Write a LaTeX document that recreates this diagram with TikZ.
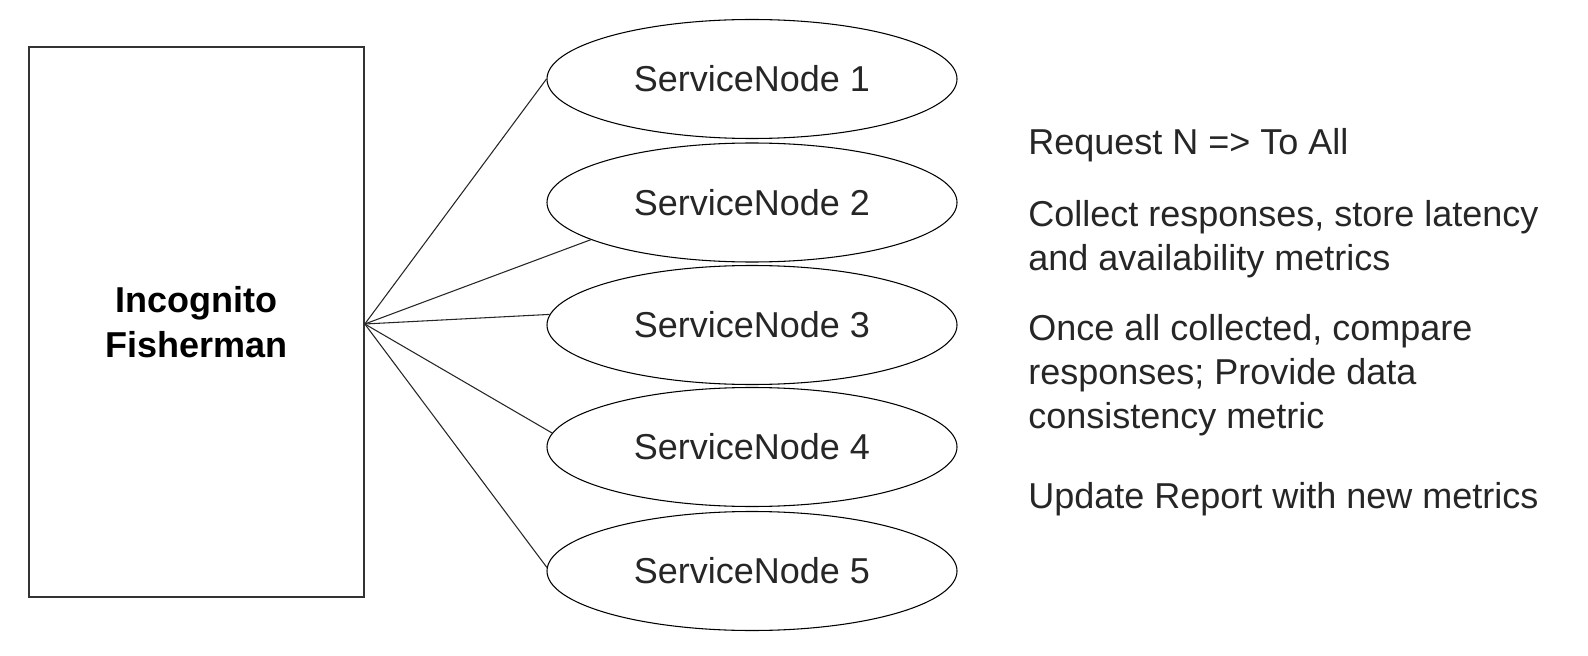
\documentclass[tikz,border=0pt]{standalone}
\usepackage{fontspec}
\setmainfont{Liberation Sans}
\usetikzlibrary{shapes.geometric,calc}
\definecolor{edgegray}{HTML}{333333}
\tikzset{
  px/.style={x=0.75pt,y=-0.75pt},
  fishbox/.style={draw=edgegray, line width=1.2pt, rectangle, inner sep=0pt,
    minimum width=251.25pt, minimum height=412.5pt, align=center,
    font=\fontsize{27}{33.75}\selectfont\bfseries},
  svc/.style={draw=black, line width=0.8pt, ellipse, inner sep=0pt,
    minimum width=307.5pt, minimum height=89.25pt,
    font=\fontsize{27}{33}\selectfont, text=black!85},
  note/.style={anchor=base west, inner sep=0pt, align=left,
    font=\fontsize{27}{33}\selectfont, text=black!85},
  link/.style={draw=black!85, line width=0.8pt}
}
\begin{document}
\begin{tikzpicture}[px]
\useasboundingbox (0,0) rectangle (1588,656);
\node[fishbox] (fish) at (196.5,322) {Incognito\\Fisherman};
\node[svc] (s1) at (752,79) {ServiceNode 1};
\node[svc] (s2) at (752,202.5) {ServiceNode 2};
\node[svc] (s3) at (752,325) {ServiceNode 3};
\node[svc] (s4) at (752,447) {ServiceNode 4};
\node[svc] (s5) at (752,571) {ServiceNode 5};
\coordinate (hub) at ($(fish.east)+(0,2)$);
\draw[link] (hub) -- (s1.west);
\draw[link] (hub) -- (s2.193);
\draw[link] (hub) -- (s3.177.5);
\draw[link] (hub) -- (s4.176.6);
\draw[link] (hub) -- (s5.179.3);
% base anchor of a multi-line node lies on its last line
\node[note] (t1) at (1028,155) {Request N => To All};
\node[note] (t2) at (1028,270) {Collect responses, store latency\\and availability metrics};
\node[note] (t3) at (1028,428) {Once all collected, compare\\responses; Provide data\\consistency metric};
\node[note] (t4) at (1028,508) {Update Report with new metrics};
\end{tikzpicture}
\end{document}
